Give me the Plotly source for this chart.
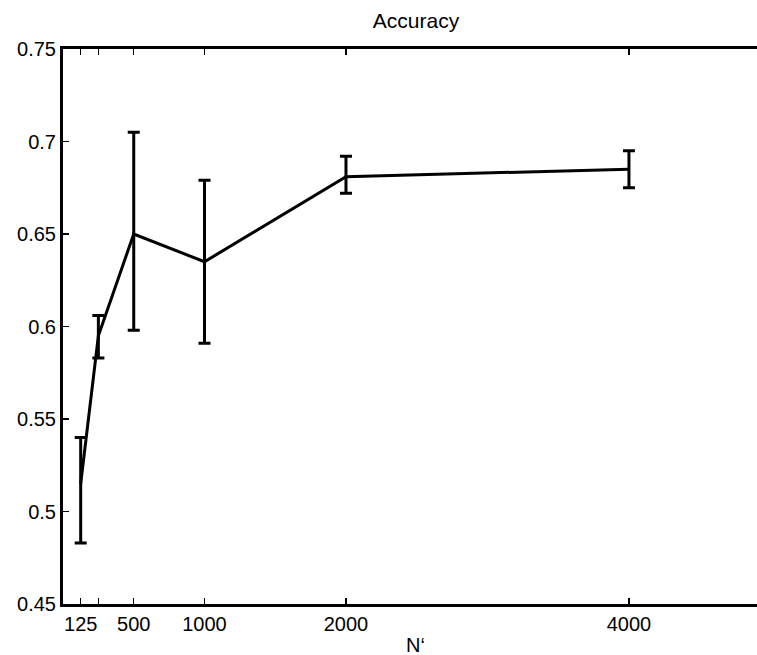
import plotly.graph_objects as go

n_values = [125, 250, 500, 1000, 2000, 4000]
accuracy = [0.515, 0.595, 0.650, 0.635, 0.681, 0.685]
err_upper = [0.540, 0.606, 0.705, 0.679, 0.692, 0.695]
err_lower = [0.483, 0.583, 0.598, 0.591, 0.672, 0.675]

x_tick_vals = [125, 250, 500, 1000, 2000, 4000]
x_tick_text = ["125", "", "500", "1000", "2000", "4000"]
y_tick_vals = [0.45, 0.5, 0.55, 0.6, 0.65, 0.7, 0.75]
y_tick_text = ["0.45", "0.5", "0.55", "0.6", "0.65", "0.7", "0.75"]

plus = [u - a for u, a in zip(err_upper, accuracy)]
minus = [a - l for a, l in zip(accuracy, err_lower)]

font = "Liberation Sans, Arial, Helvetica, sans-serif"

W, H = 757, 655
L, R, T, B = 63, 0, 49, 51

fig = go.Figure()
fig.add_trace(go.Scatter(
    x=n_values, y=accuracy, mode="lines",
    line=dict(color="black", width=3),
    error_y=dict(type="data", symmetric=False, array=plus, arrayminus=minus,
                 color="black", thickness=3, width=6),
    showlegend=False, hoverinfo="skip",
))

fig.update_layout(
    width=W, height=H,
    margin=dict(l=L, r=R, t=T, b=B),
    paper_bgcolor="white", plot_bgcolor="white",
    font=dict(family=font, size=20, color="black"),
    title=dict(text="Accuracy", x=416 / W, xanchor="center",
               y=1 - 21 / H, yanchor="middle", yref="container",
               font=dict(size=21, family=font, color="black")),
    annotations=[dict(text="N‘", xref="paper", yref="paper",
                      x=(415 - L) / (W - L - R), y=0, xanchor="center",
                      yanchor="middle", yshift=-41, showarrow=False,
                      font=dict(size=20, family=font, color="black"))],
)
fig.update_xaxes(
    range=[0, 4905], tickvals=x_tick_vals, ticktext=x_tick_text,
    showline=True, linecolor="black", linewidth=3, mirror="ticks",
    ticks="inside", ticklen=6, tickwidth=1.5, tickcolor="black",
    showgrid=False, zeroline=False,
)
fig.update_yaxes(
    range=[0.45, 0.75], tickvals=y_tick_vals, ticktext=y_tick_text,
    showline=True, linecolor="black", linewidth=3, mirror=False,
    ticks="inside", ticklen=6, tickwidth=1.5, tickcolor="black",
    showgrid=False, zeroline=False,
)

fig.write_html("out.html",
               config={"displayModeBar": False, "staticPlot": True},
               post_script="document.body.style.margin='0';"
                           "document.body.style.overflow='hidden';")
